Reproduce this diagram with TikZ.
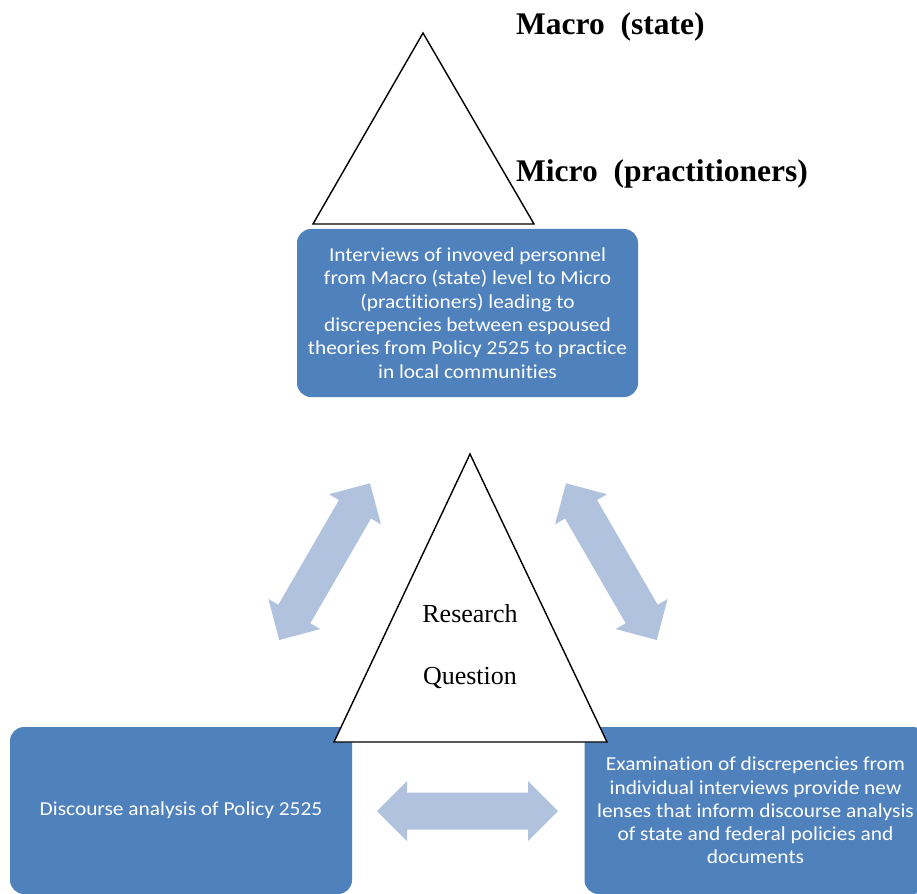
\documentclass[tikz,border=0pt]{standalone}
\usepackage{fontspec}
\setmainfont{Liberation Serif}
\newfontfamily\boxfont[FakeStretch=1.08,Ligatures=NoCommon]{Carlito}
\usetikzlibrary{calc}
\definecolor{boxblue}{HTML}{4F81BD}
\definecolor{arrowblue}{HTML}{B0C2DE}
\tikzset{
  bluebox/.style={fill=boxblue, rounded corners=14pt, text=white, align=center,
    font=\boxfont\fontsize{19.8}{23.3}\selectfont},
  tri/.style={draw=black, fill=white, line width=1.4pt, line join=miter},
  levellabel/.style={font=\bfseries\fontsize{31.5}{36}\selectfont, anchor=base west, inner sep=0pt},
  rqtext/.style={font=\fontsize{26}{30}\selectfont, anchor=base, inner sep=0pt},
  arrowbody/.style={fill=arrowblue}
}
\newcommand\bidiarrow[2]{%
  \fill[arrowbody] (#1)
    -- ($(#1)!30pt!(#2)!30pt!90:(#2)$)
    -- ($(#1)!30pt!(#2)!18.5pt!90:(#2)$)
    -- ($(#2)!30pt!(#1)!18.5pt!-90:(#1)$)
    -- ($(#2)!30pt!(#1)!30pt!-90:(#1)$)
    -- (#2)
    -- ($(#2)!30pt!(#1)!30pt!90:(#1)$)
    -- ($(#2)!30pt!(#1)!18.5pt!90:(#1)$)
    -- ($(#1)!30pt!(#2)!18.5pt!-90:(#2)$)
    -- ($(#1)!30pt!(#2)!30pt!-90:(#2)$)
    -- cycle;}
\begin{document}
\begin{tikzpicture}[x=1pt,y=-1pt]
\useasboundingbox (0,0) rectangle (917,893);
% boxes
\node[bluebox, minimum width=341pt, minimum height=168pt] (top) at (467.5,313)
  {Interviews of invoved personnel\\from Macro (state) level to Micro\\(practitioners) leading to\\discrepencies between espoused\\theories from Policy 2525 to practice\\in local communities};
\node[bluebox, minimum width=342pt, minimum height=167pt] (left) at (181,810.5)
  {Discourse analysis of Policy 2525};
\node[bluebox, minimum width=342pt, minimum height=167pt] (right) at (755.5,810.5)
  {Examination of discrepencies from\\individual interviews provide new\\lenses that inform discourse analysis\\of state and federal policies and\\documents};
% top triangle
\coordinate (t1) at (423,33);
\coordinate (t2) at (534,224);
\coordinate (t3) at (313,224);
\draw[tri] (t1) -- (t2) -- (t3) -- cycle;
\node[levellabel] (macro) at (516,35) {Macro\ \ (state)};
\node[levellabel] (micro) at (516,182) {Micro\ \ (practitioners)};
% arrows
\coordinate (la1) at (279.3,640);
\coordinate (la2) at (370,483.3);
\coordinate (ra1) at (566,483.3);
\coordinate (ra2) at (656.7,640);
\coordinate (ha1) at (377,811);
\coordinate (ha2) at (558,811);
\bidiarrow{la1}{la2}
\bidiarrow{ra1}{ra2}
\bidiarrow{ha1}{ha2}
% middle triangle
\coordinate (m1) at (470,454);
\coordinate (m2) at (607,742);
\coordinate (m3) at (334,742);
\draw[tri] (m1) -- (m2) -- (m3) -- cycle;
\node[rqtext] (rq1) at (470,622) {Research};
\node[rqtext] (rq2) at (470,684) {Question};
\end{tikzpicture}
\end{document}
